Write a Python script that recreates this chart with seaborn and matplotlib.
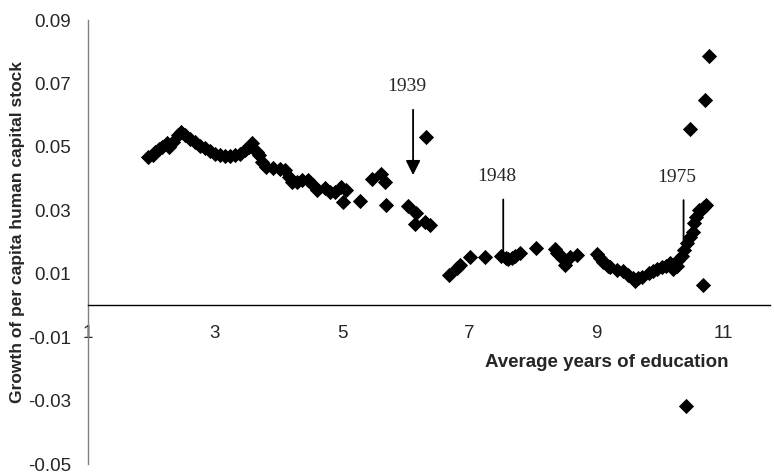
"""
Growth of per capita human capital stock vs average years of education.
"""

import matplotlib.pyplot as plt
import numpy as np
import pandas as pd
import seaborn as sns


# ---------------------------------------------------------------------------
# Data
# ---------------------------------------------------------------------------

edu_years = [
    1.95, 2.02, 2.06, 2.12, 2.16, 2.24, 2.27, 2.34, 2.42, 2.47,
    2.53, 2.61, 2.69, 2.76, 2.84, 2.92, 3.00, 3.08, 3.16, 3.24,
    3.31, 3.39, 3.47, 3.53, 3.58, 3.66, 3.69, 3.74, 3.81, 3.92,
    4.02, 4.10, 4.16, 4.21, 4.29, 4.37, 4.47, 4.55, 4.60, 4.73,
    4.81, 4.89, 4.99, 5.07, 5.02, 5.28, 5.47, 5.62, 5.68, 5.70,
    6.04, 6.17, 6.15, 6.31, 6.39, 6.33, 6.68, 6.81, 6.86, 7.02,
    7.25, 7.51, 7.58, 7.62, 7.68, 7.72, 7.80, 8.06, 8.35, 8.38,
    8.43, 8.47, 8.52, 8.59, 8.70, 9.01, 9.06, 9.11, 9.19, 9.22,
    9.33, 9.42, 9.51, 9.58, 9.62, 9.67, 9.72, 9.83, 9.90, 9.96,
    10.04, 10.10, 10.17, 10.22, 10.27, 10.30, 10.35, 10.38, 10.43, 10.48,
    10.53, 10.58, 10.63, 10.66, 10.74, 10.69, 10.42, 10.48, 10.71, 10.78,
    10.55, 10.70,
]

hc_growth = [
    0.0469, 0.0475, 0.0484, 0.0492, 0.0500, 0.0511, 0.0500, 0.0516, 0.0537, 0.0547,
    0.0537, 0.0524, 0.0514, 0.0503, 0.0495, 0.0487, 0.0479, 0.0474, 0.0472, 0.0472,
    0.0474, 0.0479, 0.0490, 0.0500, 0.0511, 0.0484, 0.0474, 0.0453, 0.0437, 0.0432,
    0.0430, 0.0427, 0.0406, 0.0390, 0.0390, 0.0395, 0.0395, 0.0380, 0.0364, 0.0369,
    0.0358, 0.0358, 0.0374, 0.0364, 0.0327, 0.0329, 0.0400, 0.0413, 0.0390, 0.0317,
    0.0315, 0.0293, 0.0256, 0.0262, 0.0255, 0.0530, 0.0096, 0.0117, 0.0128, 0.0154,
    0.0154, 0.0156, 0.0150, 0.0146, 0.0150, 0.0156, 0.0166, 0.0180, 0.0178, 0.0165,
    0.0160, 0.0150, 0.0128, 0.0154, 0.0159, 0.0162, 0.0150, 0.0138, 0.0125, 0.0122,
    0.0112, 0.0110, 0.0096, 0.0088, 0.0078, 0.0085, 0.0091, 0.0101, 0.0110, 0.0115,
    0.0122, 0.0125, 0.0133, 0.0115, 0.0125, 0.0143, 0.0155, 0.0175, 0.0196, 0.0217,
    0.0232, 0.0280, 0.0301, 0.0301, 0.0317, 0.0065, -0.0317, 0.0556, 0.0649, 0.0786,
    0.0260, 0.0310,
]

# annotations: label, x of line, top of line, bottom of line
year_labels = ["1939", "1948", "1975"]
year_x = [6.12, 7.54, 10.38]
year_top = [0.0617, 0.0334, 0.0332]
year_bottom = [0.0411, 0.0159, 0.0196]
year_arrowhead = [True, False, False]

x_ticks = [1, 3, 5, 7, 9, 11]
y_ticks = [-0.05, -0.03, -0.01, 0.01, 0.03, 0.05, 0.07, 0.09]


# ---------------------------------------------------------------------------
# Plot
# ---------------------------------------------------------------------------

sns.set_theme(style="white")
plt.rcParams["font.family"] = ["Liberation Sans", "DejaVu Sans"]

df = pd.DataFrame({"edu": edu_years, "growth": hc_growth})

fig = plt.figure(figsize=(7.74, 4.73), dpi=100)
ax = fig.add_axes([0.1137, 0.019, 0.881, 0.9387])

sns.scatterplot(
    data=df, x="edu", y="growth",
    marker="D", s=60, color="black", edgecolor="black", linewidth=0,
    ax=ax, zorder=3,
)

ax.set_xlim(1, 11.74)
ax.set_ylim(-0.05, 0.09)

# spines: y axis at x=1 (gray), x axis crossing at y=0 (black)
for side in ["top", "right"]:
    ax.spines[side].set_visible(False)
ax.spines["left"].set_color("#808080")
ax.spines["left"].set_linewidth(1.0)
ax.spines["bottom"].set_position(("data", 0))
ax.spines["bottom"].set_color("black")
ax.spines["bottom"].set_linewidth(1.0)

ax.set_xticks(x_ticks)
ax.set_xticklabels([str(t) for t in x_ticks])
ax.set_yticks(y_ticks)
ax.set_yticklabels([f"{t:.2f}" for t in y_ticks])

ax.tick_params(axis="x", direction="out", length=5, width=1, color="black",
               pad=9, labelsize=13.5)
ax.tick_params(axis="y", direction="out", length=5, width=1, color="#808080",
               pad=7, labelsize=13.5)
ax.grid(False)
ax.set_xlabel("")
ax.set_ylabel("")

# axis titles
ax.text(11.09, -0.0181, "Average years of education", ha="right", va="center",
        fontsize=13.5, fontweight="bold")
fig.text(18 / 774, 1 - 232 / 473, "Growth of per capita human capital stock",
         rotation=90, ha="center", va="center", fontsize=12.5, fontweight="bold")

# year markers
for lab, x, top, bot, head in zip(year_labels, year_x, year_top,
                                  year_bottom, year_arrowhead):
    style = "-|>" if head else "-"
    ax.annotate(
        "", xy=(x, bot), xytext=(x, top),
        arrowprops=dict(arrowstyle=style, color="black", lw=1.3,
                        mutation_scale=22, shrinkA=0, shrinkB=0),
        zorder=4,
    )
    ax.text(x - 0.1, top + 0.0072, lab, ha="center", va="center",
            fontsize=14, family=["Liberation Serif", "DejaVu Serif"])

fig.savefig("out.png", dpi=100)
